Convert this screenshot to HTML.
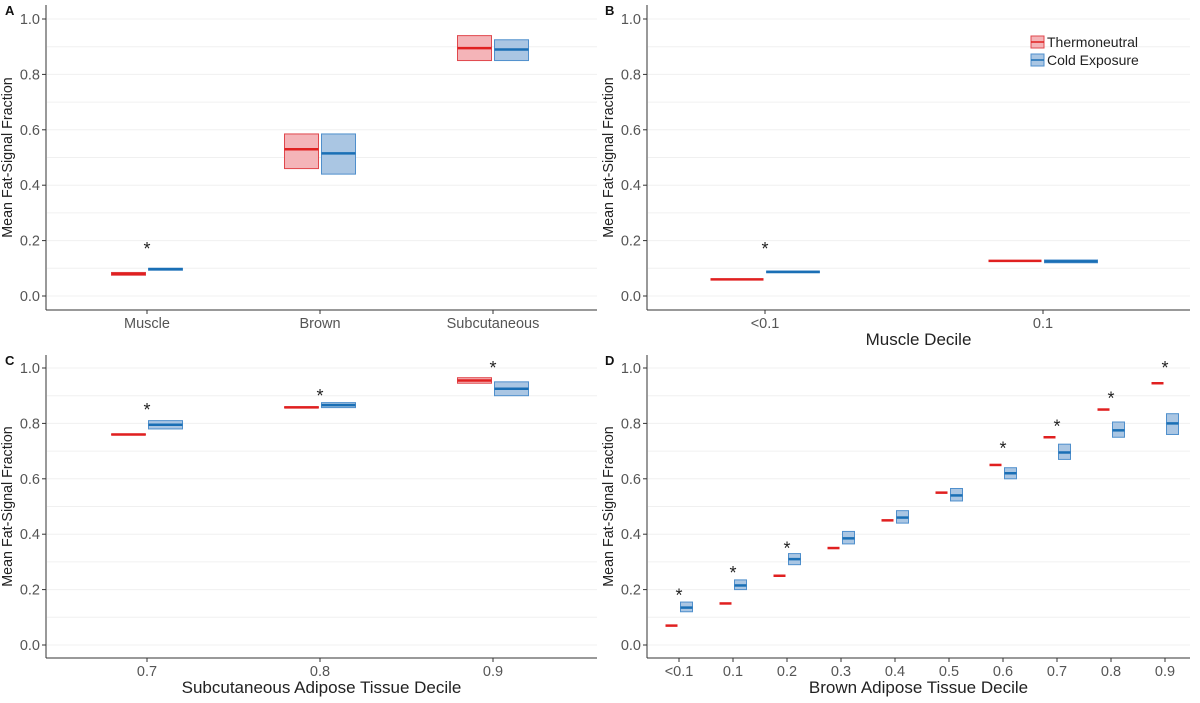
<!DOCTYPE html>
<html><head><meta charset="utf-8"><style>
body{margin:0;background:#fff;font-family:"Liberation Sans",sans-serif}
svg text{font-family:"Liberation Sans",sans-serif}
</style></head><body>
<svg id="s" width="1200" height="698" xmlns="http://www.w3.org/2000/svg"></svg>
<script>
const catsA=["Muscle","Brown","Subcutaneous"];
const tMeanA=[0.08,0.53,0.895],tLoA=[0.075,0.46,0.85],tHiA=[0.085,0.585,0.94];
const cMeanA=[0.097,0.515,0.89],cLoA=[0.093,0.44,0.85],cHiA=[0.1,0.585,0.925];
const starA=[0.18,null,null];
const catsB=["<0.1","0.1"];
const tMeanB=[0.06,0.127],tLoB=[0.058,0.124],tHiB=[0.062,0.13];
const cMeanB=[0.087,0.125],cLoB=[0.084,0.12],cHiB=[0.09,0.13];
const starB=[0.18,null];
const catsC=["0.7","0.8","0.9"];
const tMeanC=[0.76,0.858,0.955],tLoC=[0.758,0.856,0.945],tHiC=[0.762,0.86,0.965];
const cMeanC=[0.795,0.866,0.925],cLoC=[0.78,0.857,0.9],cHiC=[0.81,0.875,0.95];
const starC=[0.86,0.91,1.01];
const catsD=["<0.1","0.1","0.2","0.3","0.4","0.5","0.6","0.7","0.8","0.9"];
const tMeanD=[0.07,0.15,0.25,0.35,0.45,0.55,0.65,0.75,0.85,0.945];
const cMeanD=[0.135,0.215,0.31,0.385,0.46,0.54,0.62,0.695,0.775,0.80];
const cLoD=[0.12,0.2,0.29,0.365,0.44,0.52,0.6,0.67,0.75,0.76];
const cHiD=[0.155,0.235,0.33,0.41,0.485,0.565,0.64,0.725,0.805,0.835];
const starD=[0.19,0.27,0.36,null,null,null,0.72,0.80,0.90,1.01];
const yTicks=["0.0","0.2","0.4","0.6","0.8","1.0"];
const S=document.getElementById('s'),NS="http://www.w3.org/2000/svg";
function mk(t,a,txt){const e=document.createElementNS(NS,t);for(const k in a)e.setAttribute(k,a[k]);if(txt!=null)e.textContent=txt;S.appendChild(e);return e;}
function panel(o){
 const y=v=>o.y0-(o.y0-o.y1)*v;
 const x=i=>o.xFirst+i*o.step;
 for(let k=0;k<=10;k++){const g=mk('line',{x1:o.ax+1,x2:o.right,y1:y(k/10),y2:y(k/10),stroke:'#f0f0f0','stroke-width':1});
  }
 yTicks.forEach(t=>{const v=parseFloat(t);
  const l=mk('line',{x1:o.ax-4,x2:o.ax,y1:y(v),y2:y(v),stroke:'#333'});
  const tx=mk('text',{x:o.ax-6,y:y(v)+5,'text-anchor':'end','font-size':14.5,fill:'#555'},t);});
 const a1=mk('line',{x1:o.ax,x2:o.ax,y1:o.top,y2:o.bottom,stroke:'#333'});
 const a2=mk('line',{x1:o.ax,x2:o.right,y1:o.bottom,y2:o.bottom,stroke:'#333'});
 o.cats.forEach((c,i)=>{
  const tk=mk('line',{x1:x(i),x2:x(i),y1:o.bottom,y2:o.bottom+4,stroke:'#333'});
  const tl=mk('text',{x:x(i),y:o.bottom+18,'text-anchor':'middle','font-size':14.5,fill:'#555'},c);
  const w=o.w;
  const series=[['t',o.tM,o.tL,o.tH,'#f4b4b8','#e0474c','#e02020',-1],['c',o.cM,o.cL,o.cH,'#aac6e3','#4f8fcc','#1a6fb5',1]];
  series.forEach(s=>{
   const xl=s[7]<0?x(i)-w-1.5:x(i)+1.5;
   const lo=s[2]?s[2][i]:s[1][i],hi=s[3]?s[3][i]:s[1][i];
   if(s[2]){const r=mk('rect',{x:xl,y:y(hi),width:w,height:Math.max(0.5,y(lo)-y(hi)),fill:s[4],stroke:s[5],'stroke-width':1});
    }
   const m=mk('line',{x1:xl,x2:xl+w,y1:y(s[1][i]),y2:y(s[1][i]),stroke:s[6],'stroke-width':2.5});
   
  });
  if(o.star[i]!=null){const st=mk('text',{x:x(i),y:y(o.star[i])+9,'text-anchor':'middle','font-size':18,fill:'#222'},'*');}
 });
 const yt=mk('text',{x:0,y:0,'text-anchor':'middle','font-size':14.3,fill:'#222',transform:`translate(${o.ax-34},${(o.y0+o.y1)/2}) rotate(-90)`},'Mean Fat-Signal Fraction');
 
 if(o.xtitle){const xt=mk('text',{x:(o.ax+o.right)/2,y:o.bottom+35,'text-anchor':'middle','font-size':17,fill:'#222'},o.xtitle);}
 const pl=mk('text',{x:o.lx,y:o.top+10,'font-size':13,'font-weight':'bold',fill:'#111'},o.label);
}
panel({label:'A',lx:5,ax:46,right:597,top:5,bottom:310,y0:296,y1:19,xFirst:147,step:173,w:34,cats:catsA,tM:tMeanA,tL:tLoA,tH:tHiA,cM:cMeanA,cL:cLoA,cH:cHiA,star:starA});
panel({label:'B',lx:605,ax:647,right:1190,top:5,bottom:310,y0:296,y1:19,xFirst:765,step:278,w:53,cats:catsB,tM:tMeanB,tL:null,tH:null,cM:cMeanB,cL:cLoB,cH:cHiB,star:starB,xtitle:'Muscle Decile'});
panel({label:'C',lx:5,ax:46,right:597,top:355,bottom:658,y0:645,y1:368,xFirst:147,step:173,w:34,cats:catsC,tM:tMeanC,tL:tLoC,tH:tHiC,cM:cMeanC,cL:cLoC,cH:cHiC,star:starC,xtitle:'Subcutaneous Adipose Tissue Decile'});
panel({label:'D',lx:605,ax:647,right:1190,top:355,bottom:658,y0:645,y1:368,xFirst:679,step:54,w:12,cats:catsD,tM:tMeanD,tL:null,tH:null,cM:cMeanD,cL:cLoD,cH:cHiD,star:starD,xtitle:'Brown Adipose Tissue Decile'});
const lg=[['Thermoneutral','#f4b4b8','#e0474c','#e02020',42],['Cold Exposure','#aac6e3','#4f8fcc','#1a6fb5',60]];
lg.forEach(l=>{
 const r=mk('rect',{x:1031,y:l[4]-6,width:13,height:12,fill:l[1],stroke:l[2]});
 const m=mk('line',{x1:1031,x2:1044,y1:l[4],y2:l[4],stroke:l[3],'stroke-width':1.5});
 const t=mk('text',{x:1047,y:l[4]+5,'font-size':14,fill:'#222'},l[0]);
});
</script>
</body></html>
